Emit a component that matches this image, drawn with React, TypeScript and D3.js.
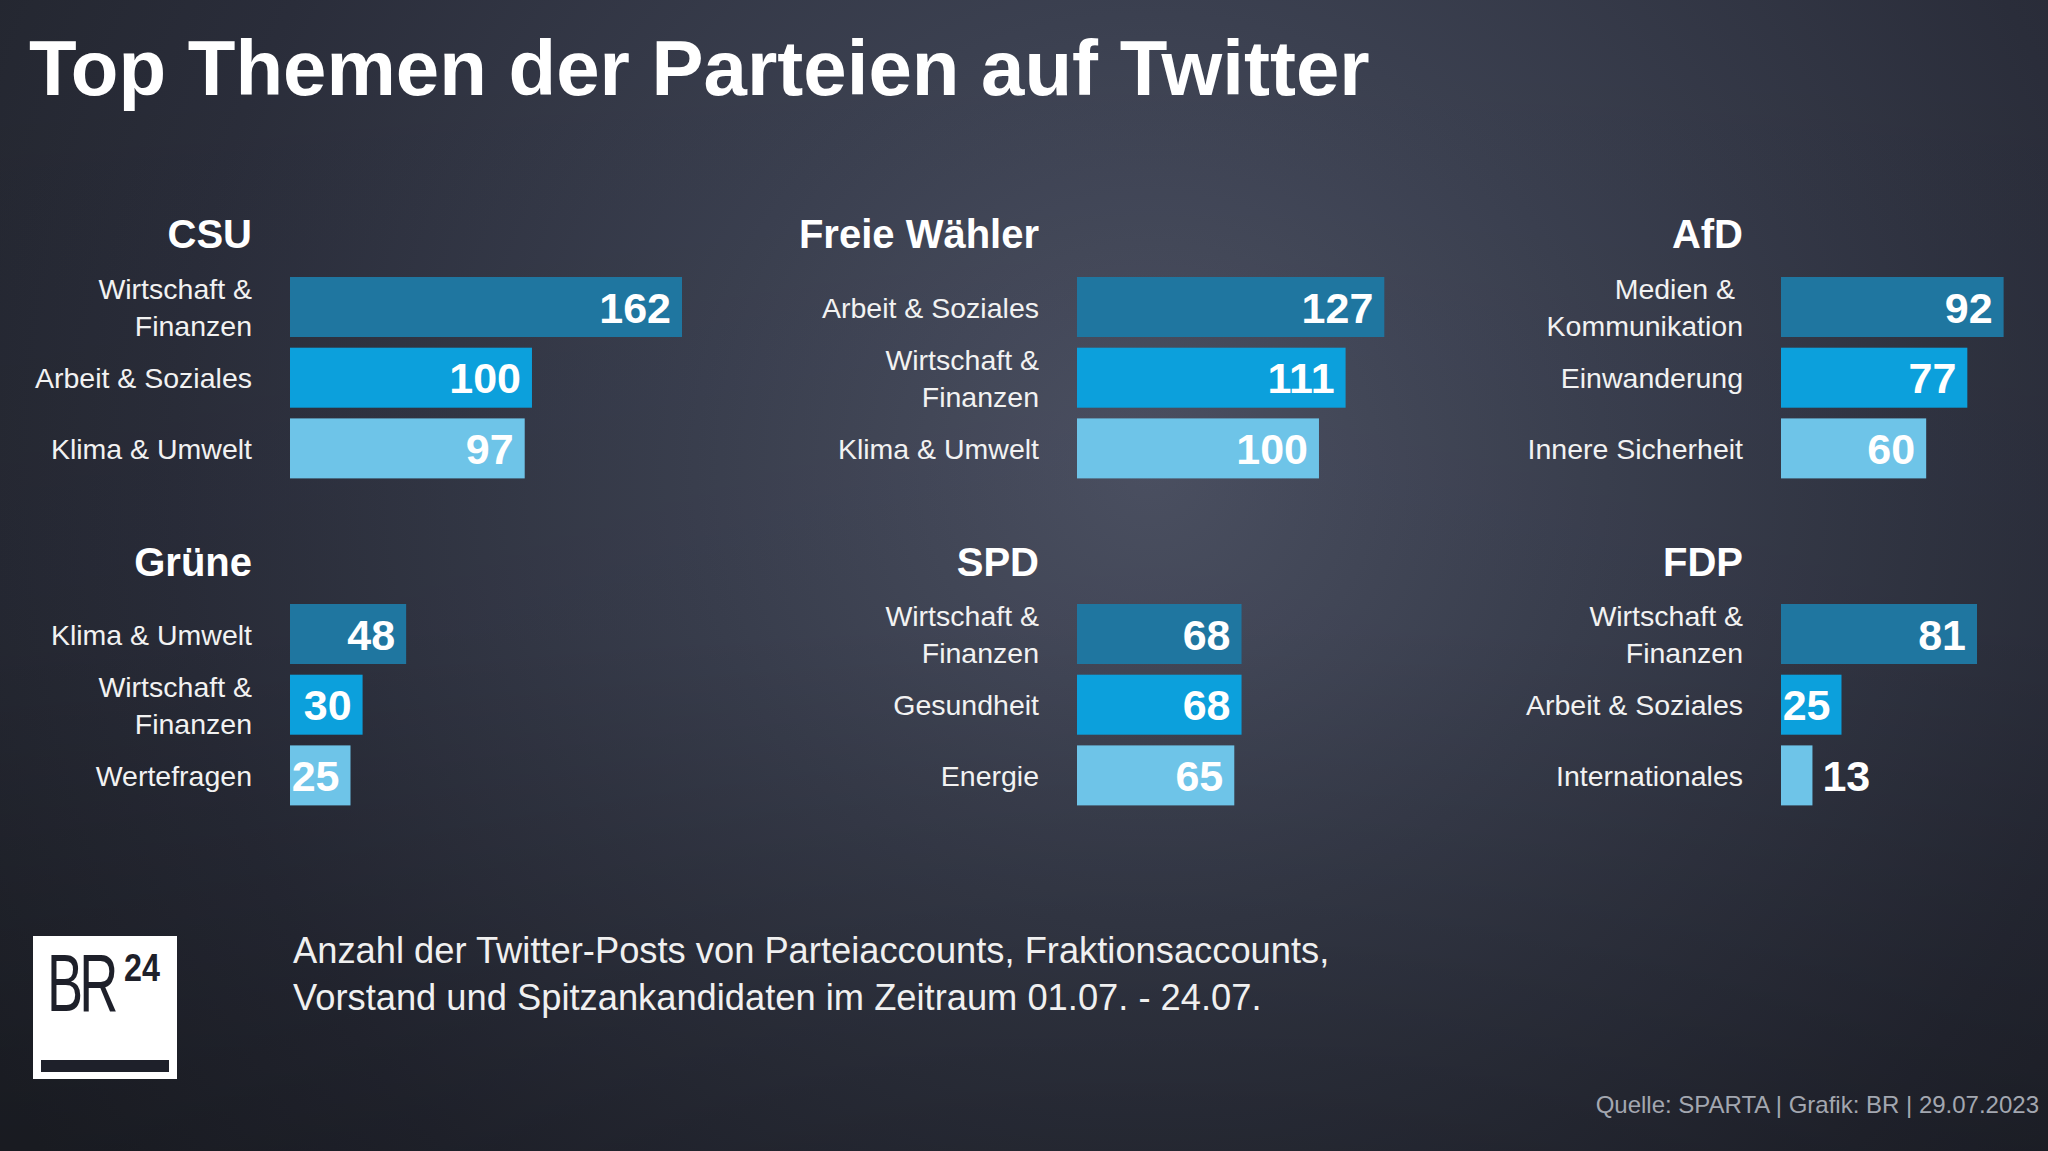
import React from "react";
import * as d3 from "d3";

const W = 2048;
const H = 1151;

const titleText = "Top Themen der Parteien auf Twitter";
const parties = ["CSU", "Freie Wähler", "AfD", "Grüne", "SPD", "FDP"];
const topics: string[][] = [
  ["Wirtschaft &\nFinanzen", "Arbeit & Soziales", "Klima & Umwelt"],
  ["Arbeit & Soziales", "Wirtschaft &\nFinanzen", "Klima & Umwelt"],
  ["Medien & \nKommunikation", "Einwanderung", "Innere Sicherheit"],
  ["Klima & Umwelt", "Wirtschaft &\nFinanzen", "Wertefragen"],
  ["Wirtschaft &\nFinanzen", "Gesundheit", "Energie"],
  ["Wirtschaft &\nFinanzen", "Arbeit & Soziales", "Internationales"],
];
const values: number[][] = [
  [162, 100, 97],
  [127, 111, 100],
  [92, 77, 60],
  [48, 30, 25],
  [68, 68, 65],
  [81, 25, 13],
];
const subtitleLines = [
  "Anzahl der Twitter-Posts von Parteiaccounts, Fraktionsaccounts,",
  "Vorstand und Spitzankandidaten im Zeitraum 01.07. - 24.07.",
];
const sourceText = "Quelle: SPARTA | Grafik: BR | 29.07.2023";

const barColors = ["#1f76a0", "#0ca0dc", "#6ec4e8"];
const FONT = "'Liberation Sans', Arial, sans-serif";

// layout
const colBarX = [290, 1077, 1781];
const rowTitleY = [248, 576];
const rowBarTop = [277, 604];
const step = 70.7;
const barH = 60;

const x = d3.scaleLinear().domain([0, 162]).range([0, 392]);

function Panel({ idx }: { idx: number }) {
  const col = idx % 3;
  const row = Math.floor(idx / 3);
  const x0 = colBarX[col];
  const labelRight = x0 - 38;
  const y = d3
    .scaleBand<number>()
    .domain([0, 1, 2])
    .range([rowBarTop[row], rowBarTop[row] + 3 * step - (step - barH)])
    .paddingInner((step - barH) / step)
    .paddingOuter(0);
  return (
    <g>
      <text
        x={labelRight}
        y={rowTitleY[row]}
        textAnchor="end"
        fontFamily={FONT}
        fontWeight="bold"
        fontSize={40}
        fill="#ffffff"
      >
        {parties[idx]}
      </text>
      {values[idx].map((v, i) => {
        const by = y(i) as number;
        const bw = x(v);
        const cy = by + y.bandwidth() / 2;
        const lines = topics[idx][i].split("\n");
        const inside = bw > 55;
        return (
          <g key={i}>
            <rect x={x0} y={by} width={bw} height={y.bandwidth()} fill={barColors[i]} />
            {lines.map((ln, j) => (
              <text
                key={j}
                x={labelRight}
                y={cy + 10.5 + (j - (lines.length - 1) / 2) * 37}
                textAnchor="end"
                fontFamily={FONT}
                fontSize={28.5}
                fill="#f2f2f2"
                style={{ whiteSpace: "pre" }}
              >
                {ln}
              </text>
            ))}
            <text
              x={inside ? x0 + bw - 11 : x0 + bw + 10}
              y={cy + 15.5}
              textAnchor={inside ? "end" : "start"}
              fontFamily={FONT}
              fontWeight="bold"
              fontSize={43}
              fill="#ffffff"
            >
              {v}
            </text>
          </g>
        );
      })}
    </g>
  );
}

export default function App() {
  return (
    <svg
      width={W}
      height={H}
      viewBox={`0 0 ${W} ${H}`}
      style={{ position: "absolute", left: 0, top: 0, display: "block" }}
    >
      <defs>
        <radialGradient id="bg" cx={1150} cy={470} r={1300} gradientUnits="userSpaceOnUse">
          <stop offset="0" stopColor="#4d5264" />
          <stop offset="0.35" stopColor="#3b4050" />
          <stop offset="0.75" stopColor="#2a2d3a" />
          <stop offset="1" stopColor="#23262f" />
        </radialGradient>
        <linearGradient id="shade" x1="0" y1="0" x2="0" y2="1">
          <stop offset="0" stopColor="#000" stopOpacity="0" />
          <stop offset="0.55" stopColor="#000" stopOpacity="0.05" />
          <stop offset="1" stopColor="#000" stopOpacity="0.3" />
        </linearGradient>
      </defs>
      <rect x={0} y={0} width={W} height={H} fill="url(#bg)" />
      <rect x={0} y={0} width={W} height={H} fill="url(#shade)" />

      <text x={29} y={95} fontFamily={FONT} fontWeight="bold" fontSize={78} fill="#ffffff">
        {titleText}
      </text>

      {parties.map((_, i) => (
        <Panel key={i} idx={i} />
      ))}

      {/* BR24 logo */}
      <g>
        <rect x={33} y={936} width={144} height={143} fill="#ffffff" />
        <text
          x={47}
          y={1011}
          fontFamily={FONT}
          fontSize={82}
          fill="#1e202a"
          transform="translate(47,0) scale(0.66,1) translate(-47,0)"
          letterSpacing={-6}
        >
          BR
        </text>
        <text x={124} y={981} fontFamily={FONT} fontWeight="bold" fontSize={38} fill="#1e202a" transform="translate(124,0) scale(0.85,1) translate(-124,0)">
          24
        </text>
        <rect x={41} y={1060} width={128} height={12} fill="#1e202a" />
      </g>

      {subtitleLines.map((ln, i) => (
        <text key={i} x={293} y={963 + i * 47} fontFamily={FONT} fontSize={36.3} fill="#f0f0f0">
          {ln}
        </text>
      ))}

      <text x={2039} y={1113} textAnchor="end" fontFamily={FONT} fontSize={24} fill="#a3a7b0">
        {sourceText}
      </text>
    </svg>
  );
}
